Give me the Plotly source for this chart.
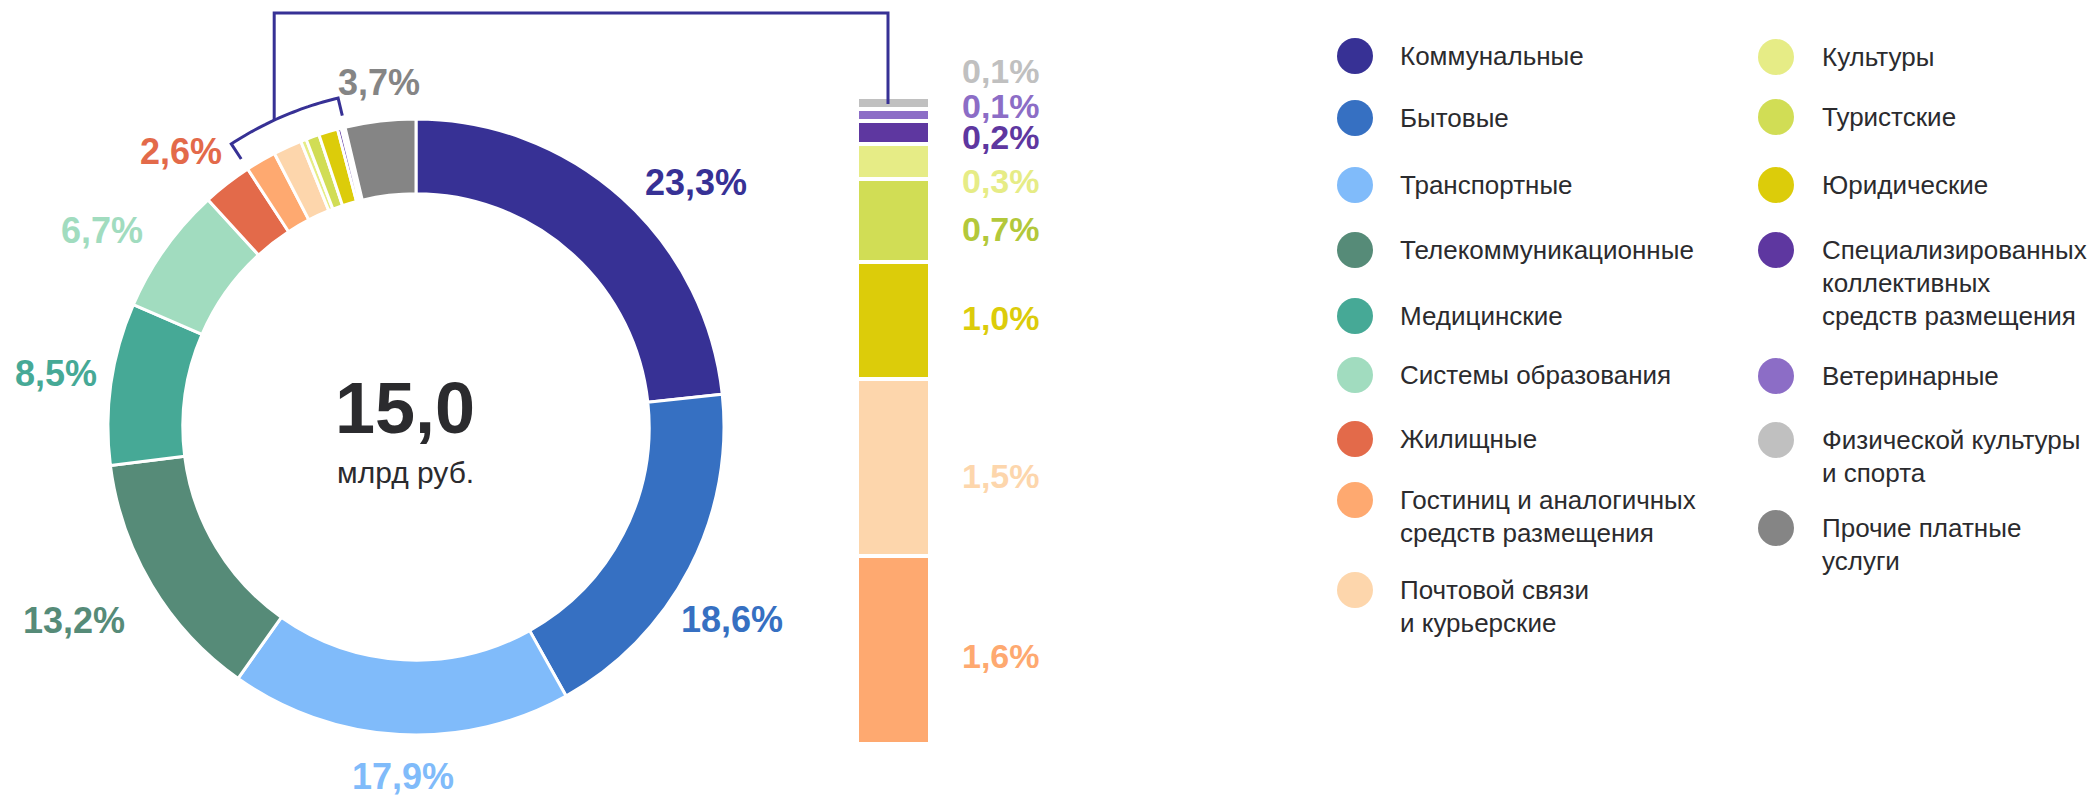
import math
import plotly.graph_objects as go

# ---------------- data ----------------
categories = [
    "Коммунальные", "Бытовые", "Транспортные", "Телекоммуникационные",
    "Медицинские", "Системы образования", "Жилищные",
    "Гостиниц и аналогичных\nсредств размещения", "Почтовой связи\nи курьерские",
    "Культуры", "Туристские", "Юридические",
    "Специализированных\nколлективных\nсредств размещения", "Ветеринарные",
    "Физической культуры\nи спорта", "Прочие платные\nуслуги",
]
shares = [23.3, 18.6, 17.9, 13.2, 8.5, 6.7, 2.6, 1.6, 1.5, 0.3, 0.7, 1.0, 0.2, 0.1, 0.1, 3.7]
colors = ["#373195", "#3670c2", "#80bbfa", "#568b78", "#46a996", "#a1dcbf", "#e36a4a",
          "#fea970", "#fdd6ac", "#e6ec86", "#d1dd55", "#dccc0a", "#5e37a0", "#8c6dc6",
          "#c0c0c0", "#858585"]
label_colors = ["#373195", "#3670c2", "#80bbfa", "#568b78", "#46a996", "#a1dcbf", "#e36a4a",
                "#fea970", "#fdd6ac", "#e6ec86", "#b3c83a", "#dccc0a", "#5e37a0", "#8c6dc6",
                "#c0c0c0", "#858585"]
donut_labelled = [0, 1, 2, 3, 4, 5, 6, 15]
detail_group = [7, 8, 9, 10, 11, 12, 13, 14]
total_value = "15,0"
total_unit = "млрд руб."
legend_columns = [[0, 1, 2, 3, 4, 5, 6, 7, 8], [9, 10, 11, 12, 13, 14, 15]]

# ---------------- layout constants (page pixels) ----------------
PAGE_W, PAGE_H = 2098, 796
OFF = 8                      # default body margin of the html page
W, H = PAGE_W - OFF, PAGE_H - OFF

CX, CY, R_OUT = 416, 427, 308
HOLE = 0.757
FONT = "Liberation Sans, Arial, sans-serif"
TEXT_DARK = "#2b2b2e"
label_r = [372, 370, 350, 393, 364, 371, 362, 346]
label_dang = [6.9, 3.9, -1.0, 1.4, 0.4, -3.4, -2.6, 0.6]
BAR_X0, BAR_X1, BAR_Y0, BAR_Y1 = 857, 930, 744, 97
bar_label_x = 960
bar_label_y = [656, 476, 318, 229, 181, 137, 106, 71]  # bottom -> top
legend_circle_x = [1355, 1776]
legend_text_x = [1398, 1820]
legend_row_y = [[56, 118, 185, 250, 316, 375, 439, 500, 590],
                [57, 117, 185, 250, 376, 440, 528]]
LINE_H = 33
LEG_FS = 26


def fx(x):  # page px -> figure px
    return x - OFF


def fy(y):
    return y - OFF


def fmt(v):
    return f"{v:.1f}".replace(".", ",") + "%"


fig = go.Figure()

# ---------------- donut ----------------
fig.add_trace(go.Pie(
    values=shares, labels=[c.replace("\n", " ") for c in categories],
    marker=dict(colors=colors, line=dict(color="white", width=3)),
    hole=HOLE, sort=False, direction="clockwise", rotation=0,
    textinfo="none", hoverinfo="label+percent", showlegend=False,
    domain=dict(x=[fx(CX - R_OUT) / W, fx(CX + R_OUT) / W],
                y=[1 - fy(CY + R_OUT) / H, 1 - fy(CY - R_OUT) / H]),
))

# ---------------- stacked detail bar ----------------
bar_order = sorted(detail_group, key=lambda i: -shares[i])
bar_total = sum(shares[i] for i in bar_order)
for i in bar_order:
    fig.add_trace(go.Bar(
        x=[0], y=[shares[i]], width=[1], name=categories[i].replace("\n", " "),
        marker=dict(color=colors[i], line=dict(color="white", width=4)),
        xaxis="x2", yaxis="y2", showlegend=False,
    ))

# ---------------- legend markers (overlay pixel axes) ----------------
lx, ly, lc = [], [], []
for col, idxs in enumerate(legend_columns):
    for row, i in enumerate(idxs):
        lx.append(fx(legend_circle_x[col]))
        ly.append(fy(legend_row_y[col][row]))
        lc.append(colors[i])
fig.add_trace(go.Scatter(
    x=lx, y=ly, mode="markers", xaxis="x3", yaxis="y3",
    marker=dict(size=36, color=lc, line=dict(width=0)),
    hoverinfo="skip", showlegend=False,
))

annotations = []
# legend texts
for col, idxs in enumerate(legend_columns):
    for row, i in enumerate(idxs):
        for k, line in enumerate(categories[i].split("\n")):
            annotations.append(dict(
                x=fx(legend_text_x[col]), y=fy(legend_row_y[col][row] + k * LINE_H),
                xref="x3", yref="y3", text=line, showarrow=False,
                xanchor="left", yanchor="middle",
                font=dict(family=FONT, size=LEG_FS, color=TEXT_DARK)))

# donut labels
cum = [0]
for v in shares:
    cum.append(cum[-1] + v)
tot = cum[-1]
for n, i in enumerate(donut_labelled):
    ang = math.radians((cum[i] + shares[i] / 2) / tot * 360 + label_dang[n])
    x = CX + label_r[n] * math.sin(ang)
    y = CY - label_r[n] * math.cos(ang)
    annotations.append(dict(
        x=fx(x), y=fy(y), xref="x3", yref="y3", text=f"<b>{fmt(shares[i])}</b>",
        showarrow=False, xanchor="center", yanchor="middle",
        font=dict(family=FONT, size=36, color=label_colors[i])))

# bar labels
for n, i in enumerate(bar_order):
    annotations.append(dict(
        x=fx(bar_label_x), y=fy(bar_label_y[n]), xref="x3", yref="y3",
        text=f"<b>{fmt(shares[i])}</b>", showarrow=False,
        xanchor="left", yanchor="middle",
        font=dict(family=FONT, size=34, color=label_colors[i])))

# center text
annotations.append(dict(x=fx(405), y=fy(408), xref="x3", yref="y3", text=f"<b>{total_value}</b>",
                        showarrow=False, xanchor="center", yanchor="middle",
                        font=dict(family=FONT, size=72, color=TEXT_DARK)))
annotations.append(dict(x=fx(405), y=fy(472), xref="x3", yref="y3", text=total_unit,
                        showarrow=False, xanchor="center", yanchor="middle",
                        font=dict(family=FONT, size=30, color=TEXT_DARK)))

# bracket + connector
a0 = cum[detail_group[0]] / tot * 360
a1 = cum[detail_group[-1] + 1] / tot * 360
RB, RT = 338, 320


def pt(a_deg, r):
    a = math.radians(a_deg)
    return fx(CX + r * math.sin(a)), fy(CY - r * math.cos(a))


pts = [pt(a0, RT)]
steps = 30
for s in range(steps + 1):
    pts.append(pt(a0 + (a1 - a0) * s / steps, RB))
pts.append(pt(a1, RT))
path = "M " + " L ".join(f"{x:.1f},{y:.1f}" for x, y in pts)
amid = a0 + (a1 - a0) * 0.42
mx, my = pt(amid, RB)
conn_top, conn_x, conn_bottom = fy(13), fx(888), fy(104)
path2 = f"M {mx:.1f},{my:.1f} L {mx:.1f},{conn_top} L {conn_x},{conn_top} L {conn_x},{conn_bottom}"
shapes = [
    dict(type="path", path=path, xref="x3", yref="y3", line=dict(color="#373195", width=3)),
    dict(type="path", path=path2, xref="x3", yref="y3", line=dict(color="#373195", width=3)),
]

fig.update_layout(
    width=W, height=H, margin=dict(l=0, r=0, t=0, b=0),
    paper_bgcolor="white", plot_bgcolor="rgba(0,0,0,0)",
    bargap=0, barmode="stack",
    xaxis2=dict(domain=[fx(BAR_X0) / W, fx(BAR_X1) / W], range=[-0.5, 0.5], visible=False,
                fixedrange=True, anchor="y2"),
    yaxis2=dict(domain=[1 - fy(BAR_Y0) / H, 1 - fy(BAR_Y1) / H], range=[0, bar_total],
                visible=False, fixedrange=True, anchor="x2"),
    xaxis3=dict(domain=[0, 1], range=[0, W], visible=False, fixedrange=True, anchor="y3"),
    yaxis3=dict(domain=[0, 1], range=[H, 0], visible=False, fixedrange=True, anchor="x3"),
    xaxis=dict(visible=False), yaxis=dict(visible=False),
    annotations=annotations, shapes=shapes,
    showlegend=False,
)

fig.write_html("out.html")
